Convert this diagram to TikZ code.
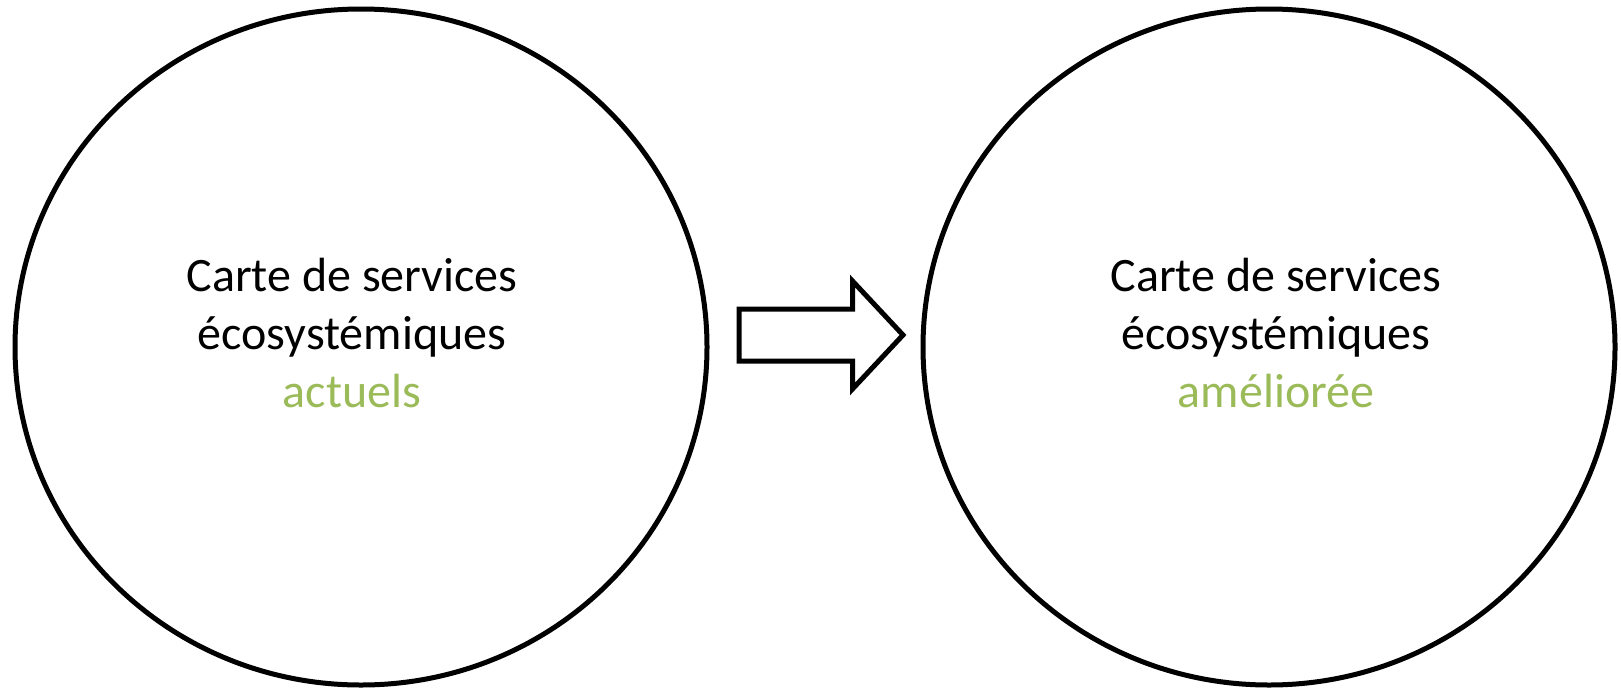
\documentclass[tikz,border=0pt]{standalone}
\usepackage{fontspec}
\setmainfont{Carlito}
\usetikzlibrary{shapes.geometric}
\definecolor{mapgreen}{RGB}{155,187,89}
\tikzset{
 mapring/.style={ellipse,draw=black,line width=2.5pt,minimum width=346pt,minimum height=338pt,inner sep=0pt},
 maptext/.style={align=center,inner sep=0pt,font=\fontsize{24}{29}\selectfont},
 blockarrow/.style={draw=black,fill=white,line width=2.5pt,line join=miter}
}
\begin{document}
\begin{tikzpicture}[x=0.5pt,y=-0.5pt]
 \useasboundingbox (0,0) rectangle (1621,691);
 \node[mapring] (now) at (361,347) {};
 \node[mapring] (later) at (1269,347) {};
 \node[maptext] (nowtext) at (352,333) {Carte de services\\écosystémiques\\\textcolor{mapgreen}{actuels}};
 \node[maptext] (latertext) at (1276,333) {Carte de services\\écosystémiques\\\textcolor{mapgreen}{améliorée}};
 \draw[blockarrow] (739,309)--(852.5,309)--(852.5,281)--(903,335)
  --(852.5,389)--(852.5,361)--(739,361)--cycle;
\end{tikzpicture}
\end{document}
